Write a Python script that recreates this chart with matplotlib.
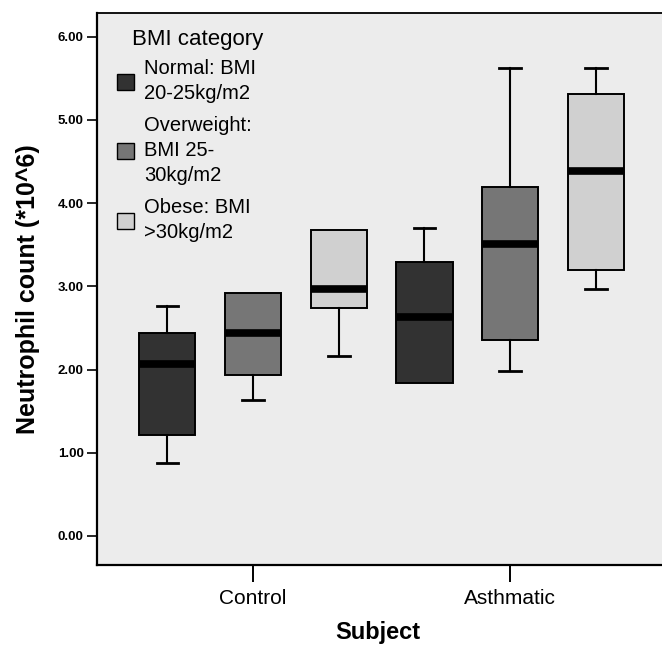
import matplotlib
matplotlib.use('Agg')
import matplotlib.pyplot as plt
from matplotlib import font_manager
from matplotlib.patches import Patch

# ---------------- data ----------------
groups = ['Control', 'Asthmatic']
bmi_categories = ['Normal: BMI\n20-25kg/m2', 'Overweight:\nBMI 25-\n30kg/m2', 'Obese: BMI\n>30kg/m2']
# values per group, in order Normal / Overweight / Obese
whisker_low = {'Control': [0.88, 1.63, 2.16], 'Asthmatic': [1.84, 1.98, 2.97]}
quartile1 = {'Control': [1.21, 1.94, 2.74], 'Asthmatic': [1.84, 2.36, 3.20]}
medians = {'Control': [2.07, 2.44, 2.97], 'Asthmatic': [2.63, 3.51, 4.39]}
quartile3 = {'Control': [2.44, 2.92, 3.68], 'Asthmatic': [3.29, 4.20, 5.31]}
whisker_high = {'Control': [2.76, 2.92, 3.68], 'Asthmatic': [3.70, 5.63, 5.63]}
y_ticks = [0, 1, 2, 3, 4, 5, 6]
y_tick_labels = ['0.00', '1.00', '2.00', '3.00', '4.00', '5.00', '6.00']
fill_colors = ['#323232', '#767676', '#d0d0d0']


def has_font(name):
    try:
        font_manager.findfont(font_manager.FontProperties(family=name), fallback_to_default=False)
        return True
    except Exception:
        return False


base_family = 'Liberation Sans' if has_font('Liberation Sans') else 'DejaVu Sans'
narrow = None
for cand in ['Liberation Sans Narrow', 'DejaVu Sans Condensed']:
    if has_font(cand):
        narrow = cand
        break
plt.rcParams['font.family'] = [base_family, 'DejaVu Sans']

W, H = 662, 645
fig = plt.figure(figsize=(W / 100, H / 100), dpi=100)
fig.patch.set_facecolor('white')
ax_left, ax_right, ax_top, ax_bottom = 97, 662, 13, 565
ax = fig.add_axes([ax_left / W, 1 - ax_bottom / H, (ax_right - ax_left) / W, (ax_bottom - ax_top) / H])
ax.set_facecolor('#ececec')

offset = 0.333
box_width = 0.218
for gi, g in enumerate(groups):
    for ci in range(len(bmi_categories)):
        stats = [{
            'med': medians[g][ci], 'q1': quartile1[g][ci], 'q3': quartile3[g][ci],
            'whislo': whisker_low[g][ci], 'whishi': whisker_high[g][ci], 'fliers': [],
        }]
        art = ax.bxp(stats, positions=[gi + (ci - 1) * offset], widths=box_width,
                     patch_artist=True, showfliers=False, capwidths=0.085, manage_ticks=False,
                     boxprops=dict(facecolor=fill_colors[ci], edgecolor='black', linewidth=1.4),
                     medianprops=dict(color='black', linewidth=5.5, solid_capstyle='butt'),
                     whiskerprops=dict(color='black', linewidth=1.5),
                     capprops=dict(color='black', linewidth=2.0))
        # no whisker / cap drawn where the whisker coincides with the box edge
        if whisker_low[g][ci] >= quartile1[g][ci]:
            art['caps'][0].set_visible(False)
            art['whiskers'][0].set_visible(False)
        if whisker_high[g][ci] <= quartile3[g][ci]:
            art['caps'][1].set_visible(False)
            art['whiskers'][1].set_visible(False)

ax.set_xlim(-0.607, 1.591)
ax.set_ylim(-0.349, 6.286)

ax.set_yticks(y_ticks)
ax.set_yticklabels(y_tick_labels, fontsize=9.5, fontweight='bold')
ax.set_xticks(range(len(groups)))
ax.set_xticklabels(groups, fontsize=15)
ax.tick_params(axis='y', direction='out', length=7.5, width=1.2, pad=2)
ax.tick_params(axis='x', direction='out', length=12, width=1.4, pad=5)

for side in ['left', 'bottom']:
    ax.spines[side].set_linewidth(1.6)
ax.spines['top'].set_linewidth(1.3)
ax.spines['right'].set_visible(False)

# axis labels
ylab_family = [narrow, base_family] if narrow else [base_family]
ylab_size = 22 if narrow else 18
ax.set_ylabel('Neutrophil count (*10^6)', fontsize=ylab_size, fontweight='bold', family=ylab_family)
ax.yaxis.set_label_coords((28 - ax_left) / (ax_right - ax_left), 0.5)
ax.yaxis.label.set_verticalalignment('center')
ax.set_xlabel('Subject', fontsize=17, fontweight='bold')
ax.xaxis.set_label_coords((378 - ax_left) / (ax_right - ax_left), (ax_bottom - 632) / (ax_bottom - ax_top))
ax.xaxis.label.set_verticalalignment('center')

# legend
handles = [Patch(facecolor=c, edgecolor='black', linewidth=1.0) for c in fill_colors]
leg = ax.legend(handles, bmi_categories, loc='upper left',
                bbox_to_anchor=((117 - ax_left) / (ax_right - ax_left), (ax_bottom - 59) / (ax_bottom - ax_top)),
                frameon=False, fontsize=14.5, borderpad=0, borderaxespad=0,
                handlelength=0.85, handleheight=0.85, handletextpad=0.5, labelspacing=0.62)
for t in leg.get_texts():
    t.set_linespacing(1.42)
ax.text((132 - ax_left) / (ax_right - ax_left), (ax_bottom - 39.5) / (ax_bottom - ax_top), 'BMI category',
        transform=ax.transAxes, fontsize=16, ha='left', va='center')

fig.savefig('out.png', dpi=100)
